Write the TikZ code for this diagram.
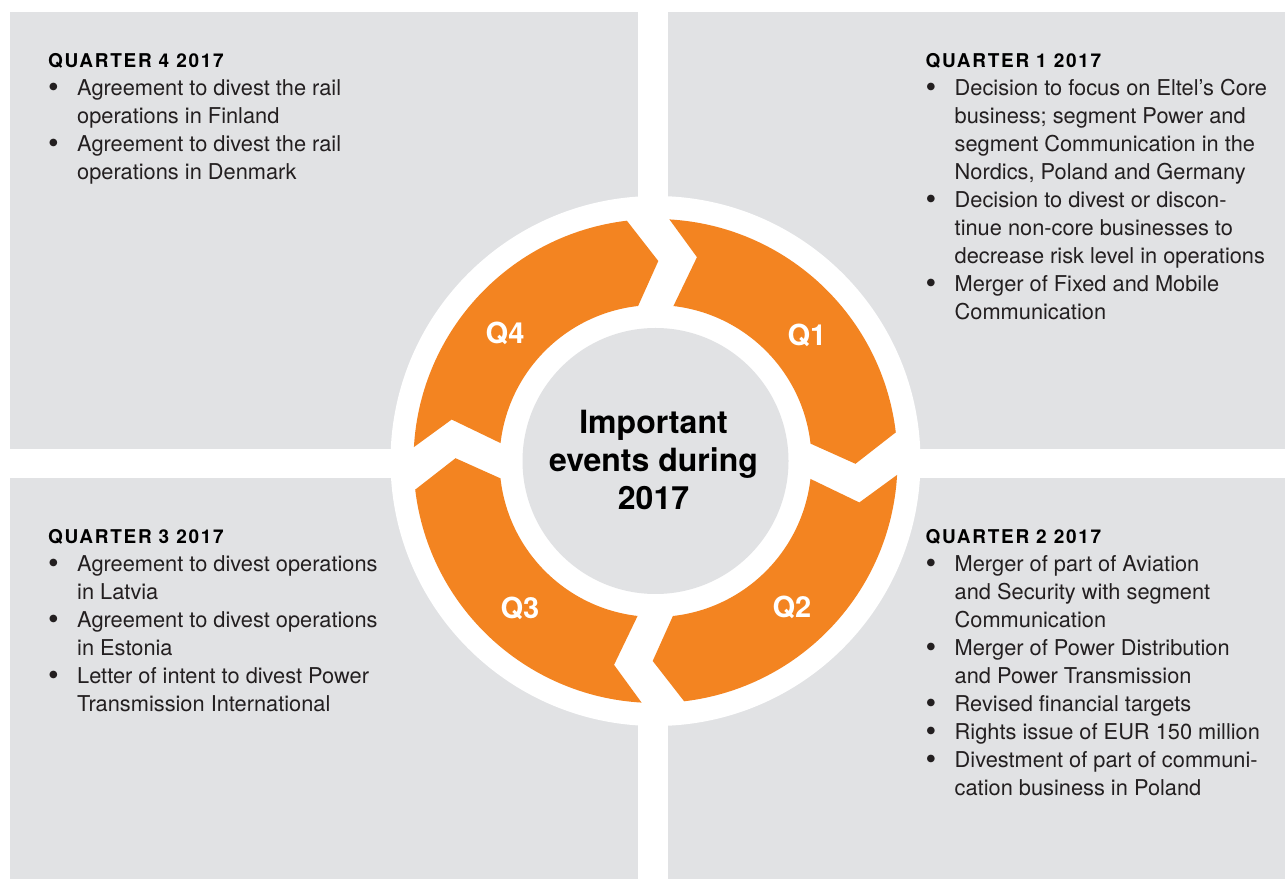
\documentclass[tikz,border=0pt]{standalone}
\usepackage{fontspec}
\usepackage{graphicx}
\setmainfont{TeX Gyre Heros}
\newfontfamily\headfont[LetterSpace=9]{TeX Gyre Heros}
\definecolor{panelgray}{RGB}{225,226,228}
\definecolor{ringorange}{RGB}{243,132,33}
\definecolor{bodytext}{RGB}{35,31,32}
% heading row spanning the bullet and text columns
\newcommand{\qhead}[1]{\multicolumn{2}{@{}l@{}}{\color{black}\headfont\bfseries\fontsize{19}{28}\selectfont #1}}
% a somewhat bigger bullet than the font's own
\newcommand{\bul}{\raisebox{-2.2pt}{\scalebox{1.4}{\textbullet}}}

\begin{document}
\begin{tikzpicture}[x=1pt,y=1pt,
    panel/.style={fill=panelgray},
    ringpart/.style={fill=ringorange},
    qlabel/.style={text=white,font=\bfseries\fontsize{29}{29}\selectfont},
    eventlist/.style={anchor=base west,inner sep=0pt,text=bodytext,font=\fontsize{21.8}{28}\selectfont}]
    \fill[white] (0,0) rectangle (1285,879);
    \useasboundingbox (0,0) rectangle (1285,879);

    % four quarter panels
    \fill[panel] (10,867) rectangle (638,430);
    \fill[panel] (668,867) rectangle (1285,430);
    \fill[panel] (10,401) rectangle (638,0);
    \fill[panel] (668,401) rectangle (1285,0);

    \begin{scope}[shift={(655.5,418)}]
    \fill[white] (0,0) circle[radius=265];
    % Q1
    \fill[ringpart] (86.7:242) arc[start angle=86.7,end angle=6.8,radius=242] -- (-0.8:200)
        -- (6.4:156) arc[start angle=6.4,end angle=83.4,radius=156] -- (78.5:208) -- cycle;
    % Q2
    \fill[ringpart] (-3.3:242) arc[start angle=-3.3,end angle=-83.2,radius=242] -- (-90.8:200)
        -- (-83.6:156) arc[start angle=-83.6,end angle=-6.6,radius=156] -- (-11.5:208) -- cycle;
    % Q3
    \fill[ringpart] (-93.3:242) arc[start angle=-93.3,end angle=-173.2,radius=242] -- (-180.8:200)
        -- (-173.6:156) arc[start angle=-173.6,end angle=-96.6,radius=156] -- (-101.5:208) -- cycle;
    % Q4
    \fill[ringpart] (176.7:242) arc[start angle=176.7,end angle=96.8,radius=242] -- (89.2:200)
        -- (96.4:156) arc[start angle=96.4,end angle=173.4,radius=156] -- (168.5:208) -- cycle;
    \fill[panelgray] (0,0) circle[radius=133];

    \node[qlabel] (q1) at (39.8:197) {Q1};
    \node[qlabel] (q2) at (-47:200) {Q2};
    \node[qlabel] (q3) at (-132.7:200) {Q3};
    \node[qlabel] (q4) at (139.8:197) {Q4};
    \node[align=center,font=\bfseries\fontsize{32}{38}\selectfont] (hub) at (-2,1)
        {Important\\events during\\2017};
    \end{scope}

    % event lists
    \node[eventlist] (q4list) at (48,811.5) {\begin{tabular}[t]{@{}p{29pt}@{}l@{}}
        \qhead{QUARTER 4 2017}\\
        \bul & Agreement to divest the rail\\
             & operations in Finland\\
        \bul & Agreement to divest the rail\\
             & operations in Denmark
    \end{tabular}};
    \node[eventlist] (q1list) at (925.5,811.5) {\begin{tabular}[t]{@{}p{29pt}@{}l@{}}
        \qhead{QUARTER 1 2017}\\
        \bul & Decision to focus on Eltel’s Core\\
             & business; segment Power and\\
             & segment Communication in the\\
             & Nordics, Poland and Germany\\
        \bul & Decision to divest or discon-\\
             & tinue non-core businesses to\\
             & decrease risk level in operations\\
        \bul & Merger of Fixed and Mobile\\
             & Communication
    \end{tabular}};
    \node[eventlist] (q3list) at (48,335.5) {\begin{tabular}[t]{@{}p{29pt}@{}l@{}}
        \qhead{QUARTER 3 2017}\\
        \bul & Agreement to divest operations\\
             & in Latvia\\
        \bul & Agreement to divest operations\\
             & in Estonia\\
        \bul & Letter of intent to divest Power\\
             & Transmission International
    \end{tabular}};
    \node[eventlist] (q2list) at (925.5,335.5) {\begin{tabular}[t]{@{}p{29pt}@{}l@{}}
        \qhead{QUARTER 2 2017}\\
        \bul & Merger of part of Aviation\\
             & and Security with segment\\
             & Communication\\
        \bul & Merger of Power Distribution\\
             & and Power Transmission\\
        \bul & Revised financial targets\\
        \bul & Rights issue of EUR 150 million\\
        \bul & Divestment of part of communi-\\
             & cation business in Poland
    \end{tabular}};
\end{tikzpicture}
\end{document}
